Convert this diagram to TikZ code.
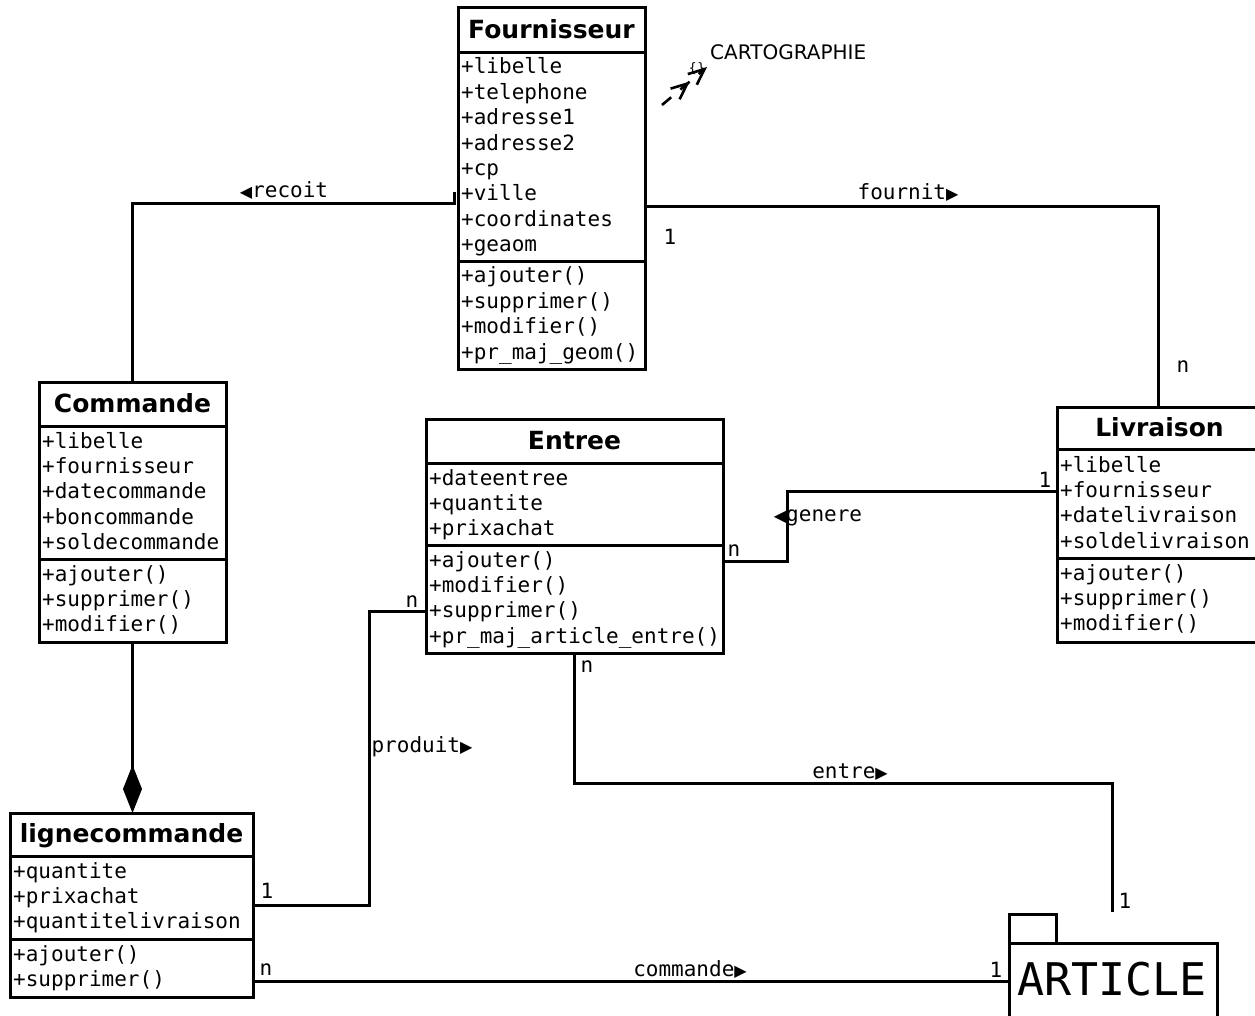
\documentclass[tikz,border=0pt]{standalone}
\usepackage{fontspec}
\setmainfont{DejaVu Sans}
\newfontfamily\monof{DejaVu Sans Mono}
\usetikzlibrary{arrows.meta}
\newcommand{\attrf}{\monof\fontsize{21}{25}\selectfont}
\newcommand{\titlef}{\fontsize{25}{25}\selectfont\bfseries}
\newcommand{\rtri}{{\rmfamily\fontsize{16}{16}\selectfont ▶}}
\newcommand{\ltri}{{\rmfamily\fontsize{16}{16}\selectfont ◀}}
\tikzset{
  frame/.style={draw, line width=3pt, inner sep=0pt, outer sep=0pt, fill=white},
  sepline/.style={line width=3pt},
  conn/.style={line width=3pt},
  ttl/.style={font=\titlef, inner sep=0pt, anchor=base},
  attr/.style={font=\attrf, inner sep=0pt, anchor=base west},
  lbl/.style={font=\attrf, inner sep=0pt, anchor=base},
}
% name, x1, y1, x2, y2, sep1, sep2, title
\newcommand{\classframe}[8]{%
  \node[frame, minimum width={#4-#2}, minimum height={#5-#3}] (#1) at ({(#2+#4)/2},{(#3+#5)/2}) {};
  \draw[sepline] (#2,#6) -- (#4,#6);
  \draw[sepline] (#2,#7) -- (#4,#7);
  \node[ttl] (#1-t) at ({(#2+#4)/2},{(#3+#6)/2+8}) {#8};
}
% prefix, x, first baseline, list
\newcommand{\rows}[4]{%
  \foreach \itm [count=\i] in {#4} { \node[attr] (#1\i) at (#2,{#3+(\i-1)*25.4}) {\itm}; }
}
\begin{document}
\begin{tikzpicture}[x=1pt,y=-1pt]
\useasboundingbox (0,0) rectangle (1255,1016);

% Fournisseur
\classframe{F}{458}{8}{645}{369}{53}{262}{Fournisseur}
\rows{Fa}{461}{74}{+libelle,+telephone,+adresse1,+adresse2,+cp,+ville,+coordinates,+geaom}
\rows{Fm}{461}{283}{+ajouter(),+supprimer(),+modifier(),+pr\_maj\_geom()}

% Commande
\classframe{C}{39}{382}{226}{642}{426}{559}{Commande}
\rows{Ca}{42}{448}{+libelle,+fournisseur,+datecommande,+boncommande,+soldecommande}
\rows{Cm}{42}{581}{+ajouter(),+supprimer(),+modifier()}

% Entree
\classframe{E}{426}{419}{723}{653}{463}{545}{Entree}
\rows{Ea}{429}{485}{+dateentree,+quantite,+prixachat}
\rows{Em}{429}{567}{+ajouter(),+modifier(),+supprimer(),+pr\_maj\_article\_entre()}

% Livraison
\classframe{L}{1057}{407}{1262}{642}{449}{558}{Livraison}
\rows{La}{1060}{472}{+libelle,+fournisseur,+datelivraison,+soldelivraison}
\rows{Lm}{1060}{580}{+ajouter(),+supprimer(),+modifier()}

% lignecommande
\classframe{LC}{10}{813}{253}{997}{856}{939}{lignecommande}
\rows{LCa}{13}{878}{+quantite,+prixachat,+quantitelivraison}
\rows{LCm}{13}{961}{+ajouter(),+supprimer()}

% ARTICLE package
\node[frame, minimum width=47, minimum height=29] (Atab) at (1032.5,928.5) {};
\node[frame, minimum width=208, minimum height=90] (A) at (1113,988) {};
\node[font=\monof\fontsize{45}{45}\selectfont, inner sep=0pt, anchor=base west] (At) at (1017,995) {ARTICLE};

% recoit
\draw[conn] (C.north) |- (454,204) -- (454,192);
\node[lbl] (recoit) at (284,198) {\ltri recoit};

% fournit
\draw[conn] (F.east |- 0,207) -| (1158,407);
\node[lbl] (fournit) at (908,200) {fournit\rtri};
\node[lbl] (m1) at (670,245) {1};
\node[lbl] (m2) at (1183,372) {n};

% genere
\draw[conn] (L.west |- 0,491) -- (787,491) |- (E.east |- 0,561);
\node[lbl] (genere) at (818,521) {\ltri genere};
\node[lbl] (m3) at (1045,487) {1};
\node[lbl] (m4) at (734,556) {n};

% produit
\draw[conn] (LC.east |- 0,905) -| (369,611) -- (E.west |- 0,611);
\node[lbl] (produit) at (422,752) {produit\rtri};
\node[lbl] (m5) at (267,898) {1};
\node[lbl] (m6) at (412,607) {n};

% entre
\coordinate (entreEnd) at (1112,912);
\draw[conn] (E.south) |- (1112,783) -- (entreEnd);
\node[lbl] (entre) at (850,778) {entre\rtri};
\node[lbl] (m7) at (587,672) {n};
\node[lbl] (m8) at (1125,908) {1};

% commande
\draw[conn] (LC.east |- 0,981) -- (A.west |- 0,981);
\node[lbl] (commande) at (690,976) {commande\rtri};
\node[lbl] (m9) at (266,975) {n};
\node[lbl] (m10) at (996,977) {1};

% composition
\draw[conn, -{Diamond[length=48pt,width=19pt]}] (C.south) -- (C.south |- LC.north);

% CARTOGRAPHIE dependency
\coordinate (cs) at (662,105);
\coordinate (ce) at (707,67);
\draw[line width=2.6pt, dash pattern=on 12pt off 12pt, -{Straight Barb[length=16pt,width=14pt,sep=2pt] Straight Barb[length=16pt,width=14pt]}] (cs) -- (ce);
\node[font=\fontsize{13}{13}\selectfont, inner sep=0pt] (cb) at (697,69) {\{\}};
\node[font=\fontsize{20}{20}\selectfont, inner sep=0pt, anchor=base west] (carto) at (710,60) {CARTOGRAPHIE};
\end{tikzpicture}
\end{document}
